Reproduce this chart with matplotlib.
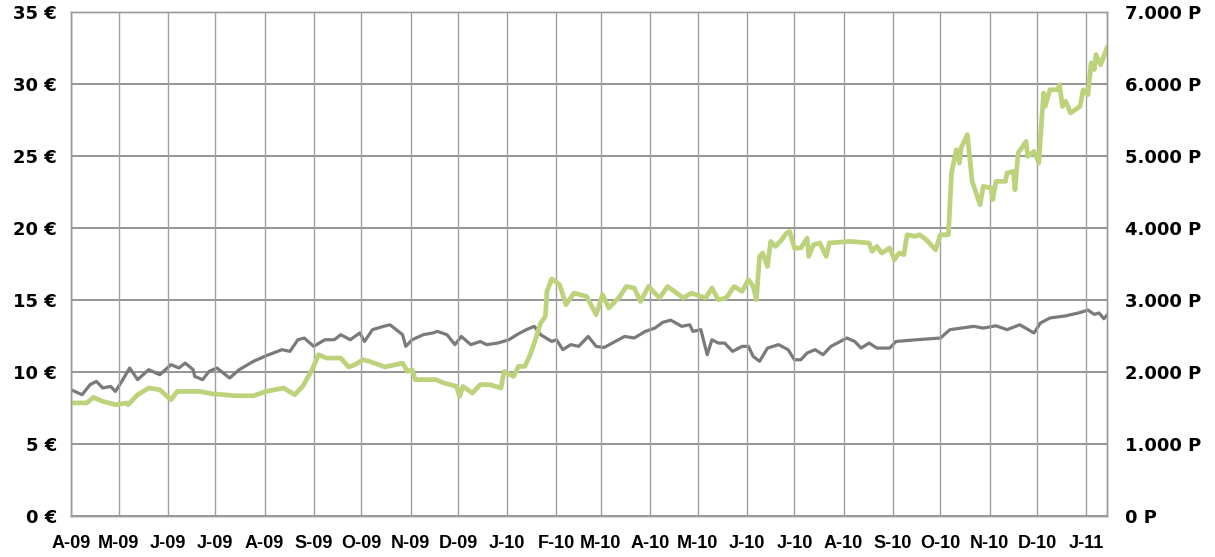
import pandas as pd
import matplotlib
matplotlib.use("Agg")
import matplotlib.pyplot as plt

start = pd.Timestamp("2009-04-01")

# share price in EUR (left axis); day = days since 2009-04-01
price_day = [0, 10, 14, 20, 28, 35, 36, 42, 49, 56, 58, 63, 67, 81, 89, 104, 115, 123, 134, 141,
             146, 152, 156, 161, 170, 175, 179, 184, 188, 198, 209, 212, 215, 217, 223, 230, 235,
             243, 245, 247, 253, 258, 264, 271, 273, 279, 282, 286, 289, 292, 296, 299, 300, 303,
             308, 312, 317, 325, 331, 335, 339, 346, 350, 355, 359, 364, 371, 376, 386, 391, 400,
             404, 408, 413, 418, 423, 427, 430, 432, 434, 436, 439, 441, 444, 448, 451, 453, 456,
             460, 464, 465, 468, 472, 476, 478, 491, 503, 505, 508, 511, 516, 519, 522, 525, 527,
             532, 535, 539, 545, 548, 553, 555, 558, 560, 561, 565, 568, 573, 575, 580, 581, 583,
             589, 590, 594, 595, 597, 602, 603, 607, 610, 613, 614, 617, 622, 623, 625, 627, 630,
             636, 638, 641, 643, 645, 646, 649, 653]
price_eur = [7.85, 7.85, 8.24, 7.96, 7.73, 7.85, 7.73, 8.42, 8.89, 8.77, 8.56, 8.08, 8.65, 8.65,
             8.49, 8.35, 8.35, 8.65, 8.89, 8.42, 9.0, 10.16, 11.2, 10.97, 10.97, 10.35, 10.51,
             10.85, 10.74, 10.35, 10.62, 10.04, 10.16, 9.47, 9.47, 9.47, 9.24, 9.0, 8.3, 9.0, 8.54,
             9.12, 9.12, 8.89, 10.04, 9.69, 10.39, 10.39, 11.08, 12.0, 13.4, 13.86, 15.6, 16.46,
             16.06, 14.67, 15.48, 15.25, 13.98, 15.37, 14.44, 15.25, 15.94, 15.83, 14.9, 15.94,
             15.14, 15.94, 15.14, 15.48, 15.14, 15.83, 15.02, 15.14, 15.94, 15.6, 16.41, 15.94,
             15.02, 18.03, 18.26, 17.33, 19.07, 18.72, 19.19, 19.65, 19.76, 18.61, 18.61, 19.3,
             18.03, 18.84, 18.96, 18.03, 18.96, 19.07, 18.96, 18.38, 18.72, 18.26, 18.61, 17.8,
             18.26, 18.15, 19.53, 19.42, 19.53, 19.19, 18.49, 19.53, 19.53, 23.82, 25.44, 24.51,
             25.56, 26.48, 23.24, 21.62, 22.89, 22.78, 21.97, 23.24, 23.24, 23.82, 23.93, 22.66,
             25.21, 26.01, 24.97, 25.32, 24.51, 29.37, 28.44, 29.6, 29.6, 29.95, 28.44, 28.8,
             27.99, 28.44, 29.6, 29.26, 31.46, 31.0, 32.04, 31.34, 32.5]

# index in points (right axis)
index_day = [0, 7, 12, 16, 20, 25, 28, 32, 37, 42, 49, 56, 63, 68, 72, 77, 78, 83, 87, 92, 100,
             106, 115, 123, 133, 138, 143, 147, 153, 160, 166, 170, 176, 182, 185, 190, 197, 201,
             205, 209, 211, 215, 222, 228, 231, 237, 242, 246, 252, 258, 262, 269, 276, 281, 287,
             292, 296, 303, 306, 310, 315, 320, 326, 331, 336, 343, 349, 355, 362, 368, 373, 378,
             385, 390, 392, 397, 401, 404, 408, 412, 417, 423, 427, 430, 434, 439, 446, 452, 456,
             460, 464, 469, 474, 479, 483, 489, 494, 498, 503, 508, 516, 520, 533, 548, 554, 569,
             575, 583, 590, 598, 607, 611, 617, 627, 635, 641, 645, 648, 651, 653]
index_pts = [1754, 1684, 1824, 1870, 1778, 1800, 1730, 1870, 2056, 1894, 2032, 1962, 2102, 2056,
             2124, 2032, 1938, 1894, 2008, 2056, 1916, 2032, 2148, 2226, 2310, 2286, 2448, 2472,
             2356, 2448, 2448, 2518, 2448, 2542, 2424, 2588, 2634, 2656, 2588, 2518, 2356, 2448,
             2518, 2542, 2564, 2518, 2380, 2494, 2380, 2424, 2380, 2402, 2448, 2518, 2588, 2634,
             2518, 2424, 2448, 2310, 2380, 2356, 2494, 2356, 2340, 2424, 2494, 2472, 2564, 2610,
             2690, 2720, 2634, 2656, 2564, 2588, 2240, 2448, 2402, 2402, 2286, 2356, 2356, 2216,
             2148, 2332, 2380, 2310, 2170, 2170, 2264, 2310, 2240, 2356, 2402, 2472, 2424, 2332,
             2402, 2332, 2332, 2424, 2448, 2472, 2588, 2634, 2610, 2642, 2588, 2656, 2542, 2680,
             2750, 2780, 2820, 2860, 2800, 2820, 2740, 2790]

month_labels = ["A-09", "M-09", "J-09", "J-09", "A-09", "S-09", "O-09", "N-09", "D-09",
                "J-10", "F-10", "M-10", "A-10", "M-10", "J-10", "J-10", "A-10", "S-10",
                "O-10", "N-10", "D-10", "J-11"]
eur_ticks = [0, 5, 10, 15, 20, 25, 30, 35]
eur_labels = ["0 €", "5 €", "10 €", "15 €", "20 €", "25 €", "30 €", "35 €"]
pts_ticks = [0, 1000, 2000, 3000, 4000, 5000, 6000, 7000]
pts_labels = ["0 P", "1.000 P", "2.000 P", "3.000 P", "4.000 P", "5.000 P", "6.000 P", "7.000 P"]

months = pd.date_range("2009-04-01", "2011-01-01", freq="MS")
month_pos = [(m - start).days for m in months]

fig = plt.figure(figsize=(12.15, 5.57), dpi=100)
ax = fig.add_axes([71 / 1215, 41 / 557, 1036 / 1215, 504 / 557])
ax2 = ax.twinx()
ax.set_zorder(2)
ax2.set_zorder(1)
ax.patch.set_visible(False)

ax2.plot(index_day, index_pts, color="#7a7a7a", lw=2.3, solid_joinstyle="round")
ax.plot(price_day, price_eur, color="#bcd27b", lw=3.4, solid_joinstyle="round")

ax.set_xlim(0, 653)
ax.set_ylim(0, 35)
ax2.set_ylim(0, 7000)

ax.set_xticks(month_pos)
ax.set_xticklabels(month_labels, fontfamily="Liberation Sans", fontweight="bold", fontsize=13)
ax.set_yticks(eur_ticks)
ax.set_yticklabels(eur_labels, fontfamily="DejaVu Sans", fontweight="bold", fontsize=13)
ax2.set_yticks(pts_ticks)
ax2.set_yticklabels(pts_labels, fontfamily="DejaVu Sans", fontweight="bold", fontsize=13)

ax.tick_params(axis="x", length=0, pad=14)
ax.tick_params(axis="y", length=0, pad=10)
ax2.tick_params(axis="y", length=0, pad=13)

ax2.grid(axis="y", color="#8c8c8c", lw=1.3)
ax.grid(axis="x", color="#a0a0a0", lw=1.0)
ax2.set_axisbelow(True)

for a in (ax, ax2):
    for s in a.spines.values():
        s.set_color("#9a9a9a")
        s.set_linewidth(1.0)

plt.savefig("out.png", dpi=100)
